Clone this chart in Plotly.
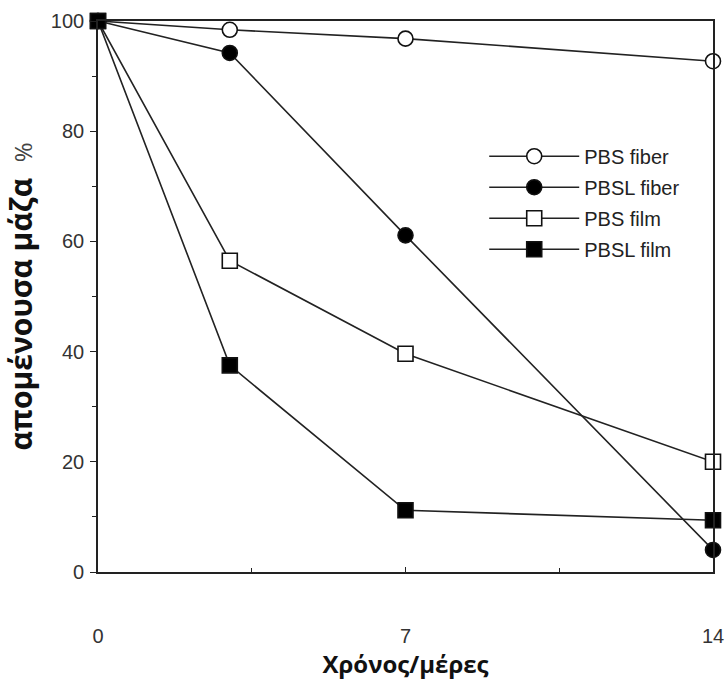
import plotly.graph_objects as go

days = [0, 3, 7, 14]
pbs_fiber = [100, 98.4, 96.8, 92.7]
pbsl_fiber = [100, 94.2, 61.1, 4.0]
pbs_film = [100, 56.5, 39.6, 20.0]
pbsl_film = [100, 37.5, 11.2, 9.4]

series = [
    ("PBS fiber", pbs_fiber, "circle", "white"),
    ("PBSL fiber", pbsl_fiber, "circle", "black"),
    ("PBS film", pbs_film, "square", "white"),
    ("PBSL film", pbsl_film, "square", "black"),
]

fig = go.Figure()
for name, vals, sym, fill in series:
    fig.add_trace(go.Scatter(
        x=days, y=vals, name=name, legendgroup=name, mode="lines+markers",
        line=dict(color="#222", width=1.6),
        marker=dict(symbol=sym, size=15, color=fill,
                    line=dict(color="#111", width=1.6)),
        cliponaxis=False,
    ))

fig.update_layout(
    width=726, height=684,
    margin=dict(l=98, r=13, t=21, b=112),
    paper_bgcolor="white", plot_bgcolor="white",
    font=dict(family="Liberation Sans, Arial", size=20, color="#333"),
    showlegend=True,
    legend=dict(x=0.628, y=0.79, xanchor="left", yanchor="top",
                bgcolor="rgba(0,0,0,0)", font=dict(size=20, color="#222"),
                tracegroupgap=2, itemwidth=90),
)
fig.update_xaxes(
    range=[0, 14], tickvals=[0, 7, 14], ticktext=["0", "7", "14"],
    automargin=False,
    showgrid=False, zeroline=False, showline=True, linecolor="#222",
    linewidth=1.6, mirror=True, ticks="inside", ticklen=5, tickcolor="#222",
    minor=dict(tickvals=[3.5, 10.5], ticks="inside", ticklen=4, tickcolor="#222"),
    title=dict(text="<b>Χρόνος/μέρες</b>", font=dict(family="Open Sans", size=24, color="#111"), standoff=4),
    ticklabelstandoff=45,
)
fig.update_yaxes(
    range=[0, 100], tickvals=[0, 20, 40, 60, 80, 100],
    automargin=False,
    showgrid=False, zeroline=False, showline=True, linecolor="#222",
    linewidth=1.6, mirror=True, ticks="outside", ticklen=6, tickcolor="#222",
    minor=dict(tickvals=[10, 30, 50, 70, 90], ticks="outside", ticklen=4, tickcolor="#222"),
    title=dict(text="<b>απομένουσα μάζα</b>\u00a0\u00a0<span style=\"font-size:24px;color:#444\">%</span>" + "\u00a0" * 12,
               font=dict(family="Open Sans", size=30, color="#111"), standoff=10),
    ticklabelstandoff=2,
)

fig.write_html("out.html", config={"displayModeBar": False},
               post_script="document.body.style.margin='0px';")
